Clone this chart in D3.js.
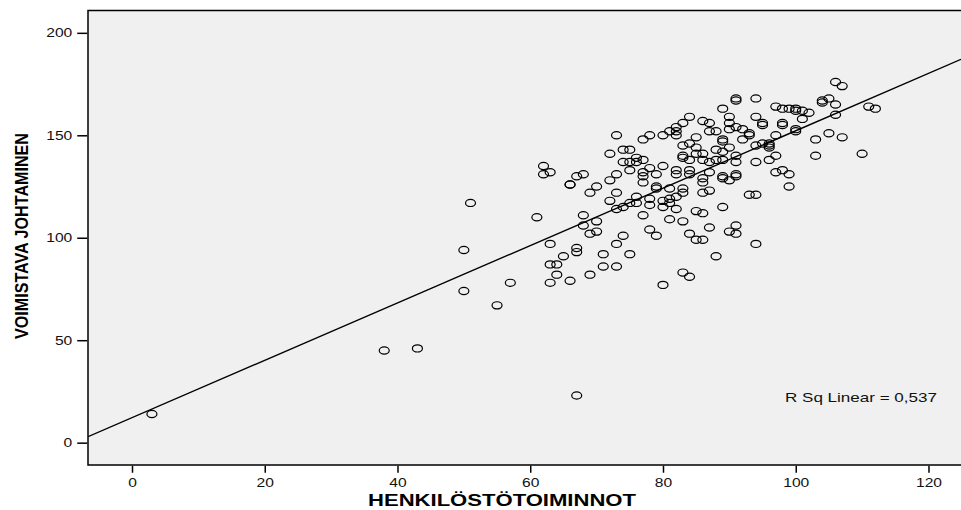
<!DOCTYPE html>
<html>
<head>
<meta charset="utf-8">
<script src="https://cdn.jsdelivr.net/npm/d3@7"></script>
<style>
  body { margin: 0; background: #fff; }
  .tick text { font-family: "Liberation Sans", Arial, sans-serif; font-size: 12px; fill: #111; }
  .tick line { stroke: #000; stroke-width: 1.5; }
  .domain { display: none; }
  .axis-title { font-weight: bold; fill: #000; }
</style>
</head>
<body>
<div id="graphic"></div>
<script>
// Scatter data: HENKILOSTOTOIMINNOT (x) vs VOIMISTAVA JOHTAMINEN (y)
var henkilostoValues = [
  3, 38, 43, 50, 50, 51, 55, 57, 61, 67,
  62, 62, 63, 66, 66, 67, 68, 69, 70, 68, 68, 70, 69, 70,
  63, 67, 67, 65, 63, 64, 64, 69, 63, 66,
  71, 71, 72, 72, 72,
  73, 73, 73, 73, 73, 73,
  74, 74, 74, 74,
  75, 75, 75, 75, 75,
  76, 76, 76, 76,
  77, 77, 77, 77, 77, 77,
  78, 78, 78, 78, 78,
  79, 79, 79, 79,
  80, 80, 80, 80, 80,
  81, 81, 81, 81, 81,
  82, 82, 82, 82, 82, 82, 82,
  83, 83, 83, 83, 83, 83, 83, 83,
  84, 84, 84, 84, 84, 84, 84,
  85, 85, 85, 85, 85,
  86, 86, 86, 86, 86, 86, 86, 86,
  87, 87, 87, 87, 87, 87,
  88, 88, 88, 88,
  89, 89, 89, 89, 89, 89, 89, 89,
  90, 90, 90, 90, 90, 90,
  91, 91, 91, 91, 91, 91, 91, 91, 91,
  92, 92,
  93, 93, 93,
  94, 94, 94, 94, 94, 94,
  95, 95, 95,
  96, 96, 96, 96,
  97, 97, 97, 97,
  98, 98, 98, 98,
  99, 99, 99,
  100, 100, 100, 100,
  101, 101, 102,
  103, 103, 104, 104, 105, 105,
  106, 106, 106, 107, 107,
  110, 111, 112
];
var johtaminenValues = [
  14, 45, 46, 94, 74, 117, 67, 78, 110, 23,
  135, 131, 132, 126, 126, 130, 131, 122, 125, 111, 106, 108, 102, 103,
  97, 95, 93, 91, 87, 87, 82, 82, 78, 79,
  92, 86, 141, 128, 118,
  150, 131, 122, 114, 97, 86,
  143, 137, 115, 101,
  143, 137, 133, 117, 92,
  139, 137, 120, 117,
  148, 138, 132, 130, 127, 111,
  150, 134, 119, 116, 104,
  131, 125, 124, 101,
  150, 135, 118, 115, 77,
  152, 124, 119, 117, 109,
  154, 152, 150, 133, 131, 120, 114,
  156, 145, 140, 139, 124, 122, 108, 83,
  159, 146, 138, 133, 131, 102, 81,
  149, 144, 141, 113, 99,
  157, 141, 138, 129, 127, 122, 112, 99,
  156, 152, 137, 132, 123, 105,
  152, 143, 138, 91,
  163, 148, 147, 142, 138, 130, 129, 115,
  159, 156, 153, 144, 128, 103,
  168, 167, 154, 140, 137, 131, 130, 106, 102,
  153, 148,
  151, 150, 121,
  168, 159, 145, 137, 121, 97,
  156, 155, 146,
  146, 145, 144, 138,
  164, 150, 140, 132,
  163, 156, 155, 133,
  163, 131, 125,
  163, 162, 153, 152,
  162, 158, 161,
  148, 140, 167, 166, 168, 151,
  176, 165, 160, 174, 149,
  141, 164, 163
];

var xTicks = [0, 20, 40, 60, 80, 100, 120];
var yTicks = [0, 50, 100, 150, 200];
var xDomain = [-6.63, 124.9];
var yDomain = [-10.9, 210.9];

// Linear fit
var fitIntercept = 12.2;
var fitSlope = 1.40;
var rSquaredLabel = 'R Sq Linear = 0,537';

var xTitle = 'HENKILÖSTÖTOIMINNOT';
var yTitle = 'VOIMISTAVA JOHTAMINEN';

// SPSS output draws its labels a bit wider than the font would
var stretchText = function (selection, factor) {
  selection.each(function () {
    var len = this.getComputedTextLength();
    d3.select(this)
      .attr('textLength', len * factor)
      .attr('lengthAdjust', 'spacingAndGlyphs');
  });
};

var renderGraphic = function () {
  var width = 961;
  var height = 510;
  var margins = { top: 10.5, right: 0, bottom: 45, left: 88 };

  var svg = d3.select('#graphic')
    .append('svg')
    .attr('width', width)
    .attr('height', height);

  var xScale = d3.scaleLinear()
    .domain(xDomain)
    .range([margins.left, width - margins.right]);
  var yScale = d3.scaleLinear()
    .domain(yDomain)
    .range([height - margins.bottom, margins.top]);

  // Plot background and frame (right edge runs off the picture)
  svg.append('rect')
    .attr('x', margins.left)
    .attr('y', margins.top)
    .attr('width', width - margins.left + 10)
    .attr('height', height - margins.bottom - margins.top)
    .attr('fill', '#f0f0f0')
    .attr('stroke', '#000')
    .attr('stroke-width', 1.5);

  svg.append('defs').append('clipPath')
    .attr('id', 'plot-clip')
    .append('rect')
    .attr('x', margins.left)
    .attr('y', margins.top)
    .attr('width', width - margins.left)
    .attr('height', height - margins.bottom - margins.top);

  // Axes
  var xAxis = svg.append('g')
    .attr('transform', 'translate(0,' + (height - margins.bottom + 0.75) + ')')
    .call(d3.axisBottom(xScale).tickValues(xTicks).tickSize(7).tickPadding(6));

  var yAxis = svg.append('g')
    .attr('transform', 'translate(' + (margins.left - 0.75) + ',0)')
    .call(d3.axisLeft(yScale).tickValues(yTicks).tickSize(10).tickPadding(5));

  stretchText(xAxis.selectAll('.tick text'), 1.3);
  stretchText(yAxis.selectAll('.tick text'), 1.3);

  var plot = svg.append('g').attr('clip-path', 'url(#plot-clip)');

  // Fit line
  plot.append('line')
    .attr('x1', xScale(xDomain[0]))
    .attr('y1', yScale(fitIntercept + fitSlope * xDomain[0]))
    .attr('x2', xScale(xDomain[1]))
    .attr('y2', yScale(fitIntercept + fitSlope * xDomain[1]))
    .attr('stroke', '#000')
    .attr('stroke-width', 1.4);

  // Points
  plot.selectAll('ellipse')
    .data(henkilostoValues)
    .enter().append('ellipse')
    .attr('cx', function (d) { return xScale(d); })
    .attr('cy', function (d, i) { return yScale(johtaminenValues[i]); })
    .attr('rx', 5)
    .attr('ry', 3.6)
    .attr('fill', 'none')
    .attr('stroke', '#000')
    .attr('stroke-width', 1.2);

  // R squared annotation
  svg.append('text')
    .attr('x', 785)
    .attr('y', 402)
    .attr('font-family', '"Liberation Sans", Arial, sans-serif')
    .attr('font-size', 13)
    .attr('fill', '#111')
    .attr('textLength', 152)
    .attr('lengthAdjust', 'spacingAndGlyphs')
    .text(rSquaredLabel);

  // Axis titles
  svg.append('text')
    .attr('class', 'axis-title')
    .attr('x', 502)
    .attr('y', 506)
    .attr('text-anchor', 'middle')
    .attr('font-family', '"Liberation Sans", Arial, sans-serif')
    .attr('font-size', 17)
    .attr('textLength', 268)
    .attr('lengthAdjust', 'spacingAndGlyphs')
    .text(xTitle);

  svg.append('text')
    .attr('class', 'axis-title')
    .attr('transform', 'translate(28,236) rotate(-90)')
    .attr('text-anchor', 'middle')
    .attr('font-family', '"Liberation Sans Narrow", "Liberation Sans", Arial, sans-serif')
    .attr('font-size', 18)
    .attr('textLength', 206)
    .attr('lengthAdjust', 'spacingAndGlyphs')
    .text(yTitle);
};

window.onload = renderGraphic;
</script>
</body>
</html>
